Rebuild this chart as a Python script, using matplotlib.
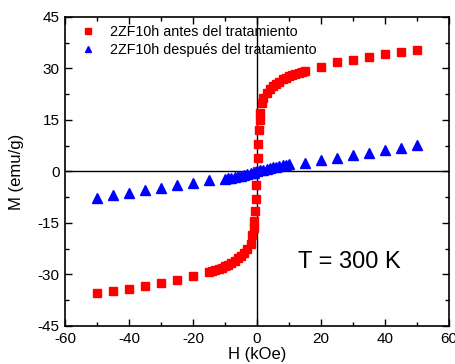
import numpy as np
import matplotlib
matplotlib.use('Agg')
import matplotlib.pyplot as plt
from matplotlib.ticker import MultipleLocator

plt.rcParams['font.family'] = ['Liberation Sans', 'DejaVu Sans']
plt.rcParams['axes.unicode_minus'] = False

# before treatment (red squares)
h_before = [-50, -45, -40, -35, -30, -25, -20, -15, -14, -13, -12, -11, -10, -9, -8, -7, -6,
            -5, -4, -3, -2, -1.5, -1.0, -0.8, -0.6, -0.4, -0.2, 0,
            0.2, 0.4, 0.6, 0.8, 1.0, 1.5, 2, 3, 4, 5, 6, 7, 8, 9, 10, 11, 12, 13, 14, 15,
            20, 25, 30, 35, 40, 45, 50]
m_before = [-35.4, -34.8, -34.2, -33.4, -32.5, -31.6, -30.4, -29.3, -29.0, -28.7, -28.4, -28.0, -27.6,
            -27.1, -26.6, -26.0, -25.3, -24.6, -23.7, -22.6, -21.0, -18.5, -16.5, -14.5, -11.5, -8.0, -4.0, 0.0,
            4.0, 8.0, 12.0, 15.0, 17.0, 20.0, 21.5, 23.0, 24.0, 25.0, 25.6, 26.2, 26.8, 27.3, 27.8,
            28.2, 28.5, 28.8, 29.1, 29.4, 30.4, 31.9, 32.5, 33.4, 34.2, 34.8, 35.4]

# after treatment (blue triangles)
h_after = [-50, -45, -40, -35, -30, -25, -20, -15, -10, -9, -8, -7, -6, -5, -4, -3, -2, -1, 0,
           1, 2, 3, 4, 5, 6, 7, 8, 9, 10, 15, 20, 25, 30, 35, 40, 45, 50]
m_after = [-7.7, -6.9, -6.3, -5.5, -4.7, -3.9, -3.3, -2.6, -2.2, -2.0, -1.8, -1.6, -1.4, -1.2,
           -1.0, -0.8, -0.55, -0.3, 0.0, 0.3, 0.55, 0.8, 1.0, 1.2, 1.4, 1.6, 1.8, 2.0, 2.2,
           2.6, 3.4, 3.9, 4.7, 5.4, 6.3, 6.8, 7.7]

fig = plt.figure(figsize=(4.56, 3.64), dpi=100)
ax = fig.add_axes([0.1425, 0.1044, 0.8421, 0.8489])

ax.axhline(0, color='black', lw=1.0, zorder=1)
ax.axvline(0, color='black', lw=1.0, zorder=1)

ax.plot(h_before, m_before, 's', color='red', ms=5.5, mec='red', ls='none',
        label='2ZF10h antes del tratamiento', zorder=3)
ax.plot(h_after, m_after, '^', color='blue', ms=6.5, mec='blue', ls='none',
        label='2ZF10h después del tratamiento', zorder=4)

ax.set_xlim(-60, 60)
ax.set_ylim(-45, 45)
ax.xaxis.set_major_locator(MultipleLocator(20))
ax.xaxis.set_minor_locator(MultipleLocator(10))
ax.yaxis.set_major_locator(MultipleLocator(15))
ax.yaxis.set_minor_locator(MultipleLocator(7.5))
ax.tick_params(which='both', direction='in', top=True, right=True, labelsize=11, width=1)
ax.tick_params(which='major', length=5, pad=4)
ax.tick_params(which='minor', length=3)
for s in ax.spines.values():
    s.set_linewidth(1.2)

ax.set_xlabel('H (kOe)', fontsize=12, labelpad=1)
ax.set_ylabel('M (emu/g)', fontsize=12, labelpad=10)

ax.text(29, -26.5, 'T = 300 K', fontsize=17, ha='center', va='center')

ax.legend(loc='upper left', bbox_to_anchor=(0.008, 0.995), frameon=False, fontsize=10.3,
          handletextpad=0.55, borderaxespad=0.0, borderpad=0.45, labelspacing=0.3,
          handlelength=1.9, markerscale=0.75)

fig.savefig('out.png', dpi=100)
